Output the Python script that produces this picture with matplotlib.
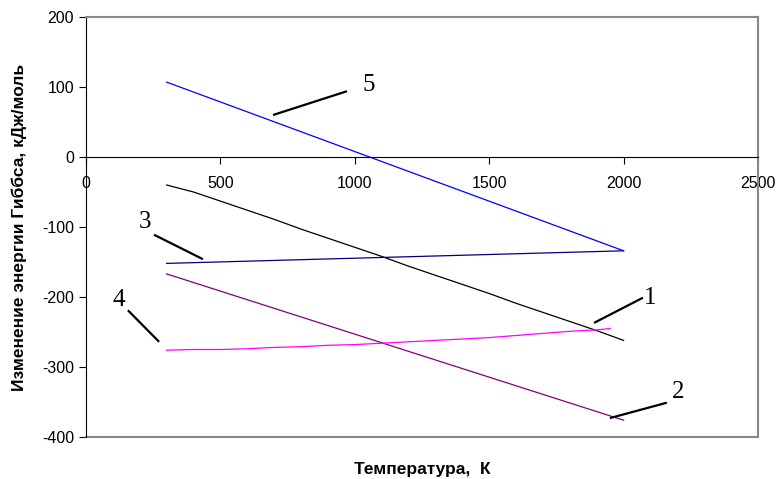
import matplotlib
matplotlib.use('Agg')
import matplotlib.pyplot as plt

plt.rcParams['font.family'] = ['Liberation Sans', 'DejaVu Sans']
plt.rcParams['axes.unicode_minus'] = False

# температура, К
t1 = [300, 400, 500, 600, 700, 800, 900, 1000, 1100, 1200, 1300, 1400, 1500, 1600, 1700, 1800, 1900, 2000]
g1 = [-40, -50, -63, -76, -89, -103, -116, -129, -142, -156, -169, -182, -195, -209, -222, -235, -248, -262]

t2 = [300, 2000]
g2 = [-167, -376]

t3 = [300, 2000]
g3 = [-152, -134]

t4 = [300, 400, 500, 600, 700, 800, 900, 1000, 1100, 1200, 1300, 1400, 1500, 1600, 1700, 1800, 1900, 1950]
g4 = [-276, -275, -275, -274, -272, -271, -269, -268, -266, -264, -262, -260, -258, -255, -252, -249, -247, -245]

t5 = [300, 2000]
g5 = [107, -134]

# номера кривых: текст, начало и конец выноски
labels = ['1', '2', '3', '4', '5']
label_pos = [(2098, -201), (2202, -336), (220, -93), (123, -204), (1053, 103)]
leader_from = [(1890, -237), (1949, -373), (435, -146), (272, -264), (696, 60)]
leader_to = [(2072, -201), (2161, -351), (253, -111), (156, -219), (971, 94)]

fig = plt.figure(figsize=(7.78, 4.79), dpi=100)
ax = fig.add_axes([0.1105, 0.0877, 0.8638, 0.8768])

ax.plot(t1, g1, color='black', lw=0.9)
ax.plot(t2, g2, color='#800080', lw=0.9)
ax.plot(t3, g3, color='#000080', lw=0.9)
ax.plot(t4, g4, color='#FF00FF', lw=0.9)
ax.plot(t5, g5, color='#0000FF', lw=0.9)

for lab, p, a, b in zip(labels, label_pos, leader_from, leader_to):
    ax.plot([a[0], b[0]], [a[1], b[1]], color='black', lw=1.6, solid_capstyle='butt')
    ax.text(p[0], p[1], lab, fontsize=18, family='Liberation Serif',
            ha='center', va='center')

ax.set_xlim(0, 2500)
ax.set_ylim(-400, 200)
ax.set_xticks([0, 500, 1000, 1500, 2000, 2500])
ax.set_yticks([-400, -300, -200, -100, 0, 100, 200])

ax.spines['bottom'].set_position(('data', 0))
ax.spines['bottom'].set_color('black')
ax.spines['left'].set_color('black')
for s in ['top', 'right']:
    ax.spines[s].set_color('#888888')
    ax.spines[s].set_linewidth(1.5)
ax.axhline(-400, color='#888888', lw=1.5, clip_on=False)

ax.tick_params(axis='both', direction='out', length=5, width=0.8, labelsize=11.5)
ax.tick_params(axis='x', pad=9)

ax.set_xlabel('Температура,  К', fontsize=12.5, fontweight='bold', labelpad=0)
ax.xaxis.set_label_coords(0.5, -0.06)
ax.set_ylabel('Изменение энергии Гиббса, кДж/моль', fontsize=12.5, fontweight='bold')
ax.yaxis.set_label_coords(-0.088, 0.5)

fig.savefig('out.png', dpi=100)
